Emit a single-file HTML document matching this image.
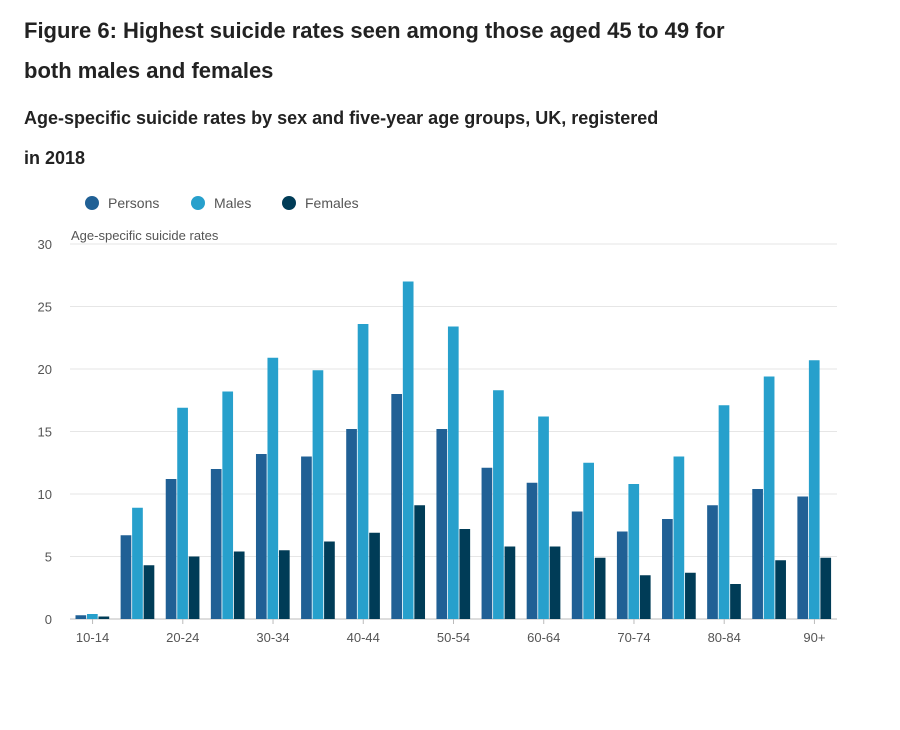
<!DOCTYPE html>
<html><head><meta charset="utf-8">
<style>
body{margin:0;background:#fff;font-family:"Liberation Sans",sans-serif;width:900px;height:730px;overflow:hidden;position:relative}
h1{position:absolute;left:24px;top:11px;margin:0;font-size:22px;line-height:40px;font-weight:bold;color:#222;width:740px}
h2{position:absolute;left:24px;top:98px;margin:0;font-size:18px;line-height:40px;font-weight:bold;color:#222;width:760px}
svg{position:absolute;left:0;top:0}
text{font-family:"Liberation Sans",sans-serif}
</style></head><body>
<h1>Figure 6: Highest suicide rates seen among those aged 45 to 49 for both males and females</h1>
<h2>Age-specific suicide rates by sex and five-year age groups, UK, registered<br>in 2018</h2>
<svg id="chart" width="900" height="730"></svg>
<script>
const categories=["10-14","15-19","20-24","25-29","30-34","35-39","40-44","45-49","50-54","55-59","60-64","65-69","70-74","75-79","80-84","85-89","90+"];
const persons=[0.3,6.7,11.2,12.0,13.2,13.0,15.2,18.0,15.2,12.1,10.9,8.6,7.0,8.0,9.1,10.4,9.8];
const males=[0.4,8.9,16.9,18.2,20.9,19.9,23.6,27.0,23.4,18.3,16.2,12.5,10.8,13.0,17.1,19.4,20.7];
const females=[0.2,4.3,5.0,5.4,5.5,6.2,6.9,9.1,7.2,5.8,5.8,4.9,3.5,3.7,2.8,4.7,4.9];
const yTicks=[0,5,10,15,20,25,30];
const seriesNames=["Persons","Males","Females"];
const colors=["#206095","#27a0cc","#003c57"];
const NS="http://www.w3.org/2000/svg";
const svg=document.getElementById('chart');
const x0=70,x1=837,y0=619,y30=244;
const y=v=>y0-(v/30)*(y0-y30);
const gw=(x1-x0)/categories.length;
const gx=i=>x0+i*gw;
function mk(t,a){const e=document.createElementNS(NS,t);for(const k in a)e.setAttribute(k,a[k]);svg.appendChild(e);return e;}
yTicks.forEach(t=>{
  const l=mk('line',{x1:x0,x2:x1,y1:y(t),y2:y(t),stroke:t===0?'#bbb':'#e6e6e6','stroke-width':1});
  
  
  const tx=mk('text',{x:52,y:y(t)+5,'text-anchor':'end','font-size':13,fill:'#555'});
  tx.textContent=t;
  
  
});
const yt=mk('text',{x:71,y:240,'font-size':13,fill:'#555'});
yt.textContent='Age-specific suicide rates';


const data=[persons,males,females];
const bw=11.5;
categories.forEach((c,i)=>{
  data.forEach((arr,s)=>{
    const b=mk('rect',{x:gx(i)+5.5+s*bw,y:y(arr[i]),width:bw-0.8,height:y0-y(arr[i]),fill:colors[s]});
    
    
  });
  if(i%2===0){
    const t=mk('text',{x:gx(i)+gw/2,y:642,'text-anchor':'middle','font-size':13,fill:'#555'});
    t.textContent=c;
    
    
    const tk=mk('line',{x1:gx(i)+gw/2,x2:gx(i)+gw/2,y1:y0,y2:y0+5,stroke:'#bbb'});
    
    
  }
});
const legX=[92,198,289];
seriesNames.forEach((n,s)=>{
  const c=mk('circle',{cx:legX[s],cy:203,r:7,fill:colors[s]});
  
  
  const t=mk('text',{x:legX[s]+16,y:208,'font-size':14,fill:'#555'});
  t.textContent=n;
  
  
});
</script>
</body></html>
